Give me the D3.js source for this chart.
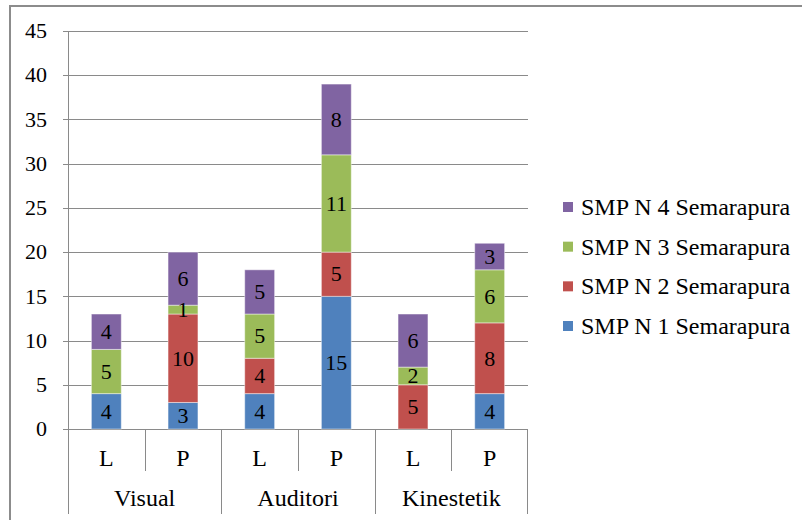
<!DOCTYPE html>
<html>
<head>
<meta charset="utf-8">
<script src="https://cdn.jsdelivr.net/npm/d3@7"></script>
</head>
<body style="margin:0">
<svg id="chart" width="802" height="520" font-family="Liberation Serif" style="font-family: 'Liberation Serif'"></svg>
<script>
// Learning-style counts per school, split by gender (L / P)
const groups = ["Visual", "Auditori", "Kinestetik"];
const genders = ["L", "P"];
const seriesNames = ["SMP N 1 Semarapura", "SMP N 2 Semarapura", "SMP N 3 Semarapura", "SMP N 4 Semarapura"];
const seriesColors = ["#4f81bd", "#c0504d", "#9bbb59", "#8064a2"];
// Order of bars: Visual L, Visual P, Auditori L, Auditori P, Kinestetik L, Kinestetik P
const smp1 = [4, 3, 4, 15, 0, 4];
const smp2 = [0, 10, 4, 5, 5, 8];
const smp3 = [5, 1, 5, 11, 2, 6];
const smp4 = [4, 6, 5, 8, 6, 3];
const yTicks = [0, 5, 10, 15, 20, 25, 30, 35, 40, 45];

const seriesValues = [smp1, smp2, smp3, smp4];
const cats = [];
groups.forEach(g => genders.forEach(s => cats.push(g + "|" + s)));
const rows = cats.map((c, i) => {
  const r = { key: c };
  seriesNames.forEach((n, k) => r[n] = seriesValues[k][i]);
  return r;
});

const NUM_FS = 22, TXT_FS = 24;
const svg = d3.select("#chart");
const plotLeft = 68, plotRight = 528, plotTop = 31, base = 429, axisBottom = 514;

const x = d3.scaleBand().domain(cats).range([plotLeft, plotRight]);
const y = d3.scaleLinear().domain([0, 45]).range([base, plotTop]);
const barW = x.bandwidth() * 0.39;

// every text sits directly under the svg root, set in Liberation Serif
function addTexts(cls, data, size) {
  return svg.selectAll("text." + cls).data(data).join("text")
    .attr("class", cls)
    .attr("font-family", "Liberation Serif")
    .attr("font-size", size).attr("fill", "#000")
    .style("font-family", "\"Liberation Serif\", cursive", "important");
}

// outer frame (top and left edges)
svg.append("path")
  .attr("d", `M10,520 L10,6 L802,6`)
  .attr("fill", "none").attr("stroke", "#8c8c8c").attr("stroke-width", 2);

// gridlines + tick marks
svg.append("g").selectAll("line").data(yTicks).join("line")
  .attr("x1", plotLeft - 5).attr("x2", plotRight)
  .attr("y1", d => Math.round(y(d)) + 0.5).attr("y2", d => Math.round(y(d)) + 0.5)
  .attr("stroke", "#8a8a8a").attr("stroke-width", 1);

// y tick labels
addTexts("ytick", yTicks, NUM_FS)
  .attr("x", 47).attr("y", d => y(d))
  .attr("dy", "0.33em").attr("text-anchor", "end")
  .text(d => d);

// stacked bars
const stack = d3.stack().keys(seriesNames);
const layers = stack(rows);
const layerG = svg.append("g").selectAll("g").data(layers).join("g")
  .attr("fill", (d, i) => seriesColors[i]);
layerG.selectAll("rect").data(d => d.filter(p => p[1] - p[0] > 0)).join("rect")
  .attr("x", d => x(d.data.key) + (x.bandwidth() - barW) / 2)
  .attr("width", barW)
  .attr("y", d => y(d[1]))
  .attr("height", d => y(d[0]) - y(d[1]))
  .attr("stroke", "rgba(255,255,255,0.45)").attr("stroke-width", 1);

// value labels
const segments = layers.flatMap(layer => layer.filter(p => p[1] - p[0] > 0));
addTexts("val", segments, NUM_FS)
  .attr("x", d => x(d.data.key) + x.bandwidth() / 2)
  .attr("y", d => (y(d[0]) + y(d[1])) / 2)
  .attr("dy", "0.33em").attr("text-anchor", "middle")
  .text(d => d[1] - d[0]);

// axis lines
const axisColor = "#8a8a8a";
const ax = svg.append("g").attr("stroke", axisColor).attr("stroke-width", 1);
ax.append("line").attr("x1", plotLeft + 0.5).attr("x2", plotLeft + 0.5).attr("y1", plotTop).attr("y2", axisBottom);
ax.append("line").attr("x1", plotRight - 0.5).attr("x2", plotRight - 0.5).attr("y1", base).attr("y2", axisBottom);
// dividers between genders within a group
groups.forEach(g => {
  const xp = Math.round(x(g + "|P")) + 0.5;
  ax.append("line").attr("x1", xp).attr("x2", xp).attr("y1", base).attr("y2", 471);
});
// dividers between groups
groups.slice(1).forEach(g => {
  const xp = Math.round(x(g + "|L")) + 0.5;
  ax.append("line").attr("x1", xp).attr("x2", xp).attr("y1", base).attr("y2", axisBottom);
});

// category labels
addTexts("cat", cats, TXT_FS)
  .attr("x", d => x(d) + x.bandwidth() / 2).attr("y", 458)
  .attr("dy", "0.33em").attr("text-anchor", "middle")
  .text(d => d.split("|")[1]);
addTexts("grp", groups, TXT_FS)
  .attr("x", g => x(g + "|L") + x.bandwidth()).attr("y", 498)
  .attr("dy", "0.33em").attr("text-anchor", "middle")
  .text(g => g);

// legend (top entry is the last series)
const legendY = d3.scalePoint().domain(seriesNames.slice().reverse()).range([207, 326]);
svg.selectAll("rect.key").data(seriesNames).join("rect")
  .attr("class", "key")
  .attr("x", 563).attr("y", d => legendY(d) - 5).attr("width", 10).attr("height", 10)
  .attr("fill", (d, i) => seriesColors[i]);
addTexts("keytext", seriesNames, TXT_FS)
  .attr("x", 581).attr("y", d => legendY(d)).attr("dy", "0.33em")
  .text(d => d);
</script>
</body>
</html>
